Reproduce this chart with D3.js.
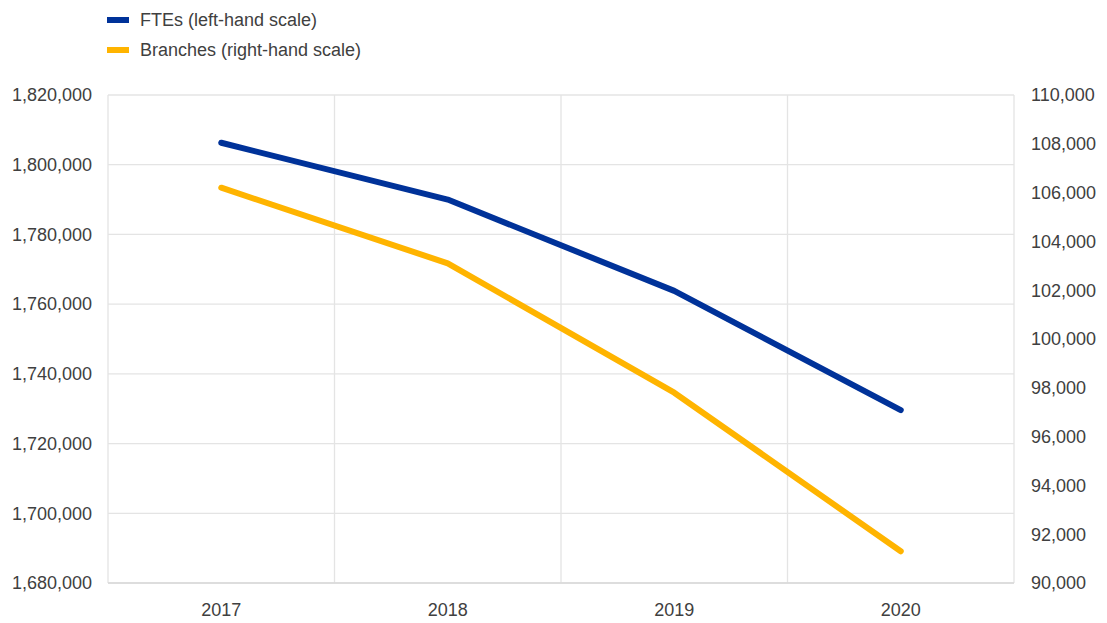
<!DOCTYPE html>
<html>
<head>
<meta charset="utf-8">
<script src="https://cdn.jsdelivr.net/npm/d3@7"></script>
<style>
  body { margin: 0; background: #fff; }
  svg text { font-family: "Liberation Sans", Arial, sans-serif; fill: #404040; }
</style>
</head>
<body>
<script>
// years on the x axis
var years = ["2017", "2018", "2019", "2020"];
// full-time equivalent employees (left scale)
var ftes = [1806300, 1790000, 1763800, 1729600];
// number of branches (right scale)
var branches = [106200, 103100, 97800, 91300];

var leftTicks = [1680000, 1700000, 1720000, 1740000, 1760000, 1780000, 1800000, 1820000];
var rightTicks = [90000, 92000, 94000, 96000, 98000, 100000, 102000, 104000, 106000, 108000, 110000];

var W = 1107, H = 623;
var plotL = 108, plotR = 1014, plotT = 95, plotB = 583;

var svg = d3.select("body").append("svg")
    .attr("width", W)
    .attr("height", H);

var x = d3.scaleBand().domain(years).range([plotL, plotR]);
var yL = d3.scaleLinear().domain([1680000, 1820000]).range([plotB, plotT]);
var yR = d3.scaleLinear().domain([90000, 110000]).range([plotB, plotT]);

var fmt = d3.format(",");

// grid lines
var grid = svg.append("g").attr("stroke", "#e4e4e4").attr("stroke-width", 1.3);
grid.selectAll(".h").data(leftTicks).enter().append("line")
    .attr("x1", plotL).attr("x2", plotR)
    .attr("y1", function(d) { return yL(d); })
    .attr("y2", function(d) { return yL(d); });
grid.selectAll(".v").data(years.slice(1)).enter().append("line")
    .attr("x1", function(d) { return x(d); })
    .attr("x2", function(d) { return x(d); })
    .attr("y1", plotT).attr("y2", plotB);
// frame: left, right, bottom
grid.append("line").attr("x1", plotL).attr("x2", plotL).attr("y1", plotT).attr("y2", plotB);
grid.append("line").attr("x1", plotR).attr("x2", plotR).attr("y1", plotT).attr("y2", plotB);
grid.append("line").attr("x1", plotL).attr("x2", plotR).attr("y1", plotB).attr("y2", plotB)
    .attr("stroke", "#d9d9d9");

// left axis labels
svg.append("g").selectAll("text").data(leftTicks).enter().append("text")
    .attr("x", 92)
    .attr("y", function(d) { return yL(d); })
    .attr("dy", "0.35em")
    .attr("text-anchor", "end")
    .attr("font-size", 18)
    .text(fmt);

// right axis labels
svg.append("g").selectAll("text").data(rightTicks).enter().append("text")
    .attr("x", 1031)
    .attr("y", function(d) { return yR(d); })
    .attr("dy", "0.35em")
    .attr("text-anchor", "start")
    .attr("font-size", 18)
    .text(fmt);

// x labels
svg.append("g").selectAll("text").data(years).enter().append("text")
    .attr("x", function(d) { return x(d) + x.bandwidth() / 2; })
    .attr("y", 616)
    .attr("text-anchor", "middle")
    .attr("font-size", 18)
    .text(function(d) { return d; });

var cx = function(d, i) { return x(years[i]) + x.bandwidth() / 2; };

var lineL = d3.line().x(cx).y(function(d) { return yL(d); });
var lineR = d3.line().x(cx).y(function(d) { return yR(d); });

svg.append("path").datum(branches)
    .attr("d", lineR)
    .attr("fill", "none")
    .attr("stroke", "#ffb400")
    .attr("stroke-width", 6)
    .attr("stroke-linejoin", "round")
    .attr("stroke-linecap", "round");

svg.append("path").datum(ftes)
    .attr("d", lineL)
    .attr("fill", "none")
    .attr("stroke", "#003299")
    .attr("stroke-width", 6)
    .attr("stroke-linejoin", "round")
    .attr("stroke-linecap", "round");

// legend
var legend = [
  { name: "FTEs (left-hand scale)", color: "#003299" },
  { name: "Branches (right-hand scale)", color: "#ffb400" }
];
var lg = svg.append("g").selectAll("g").data(legend).enter().append("g")
    .attr("transform", function(d, i) { return "translate(107," + (20 + i * 30) + ")"; });
lg.append("rect")
    .attr("x", 0).attr("y", -3)
    .attr("width", 22).attr("height", 6)
    .attr("fill", function(d) { return d.color; });
lg.append("text")
    .attr("x", 33)
    .attr("dy", "0.35em")
    .attr("font-size", 18)
    .text(function(d) { return d.name; });
</script>
</body>
</html>
